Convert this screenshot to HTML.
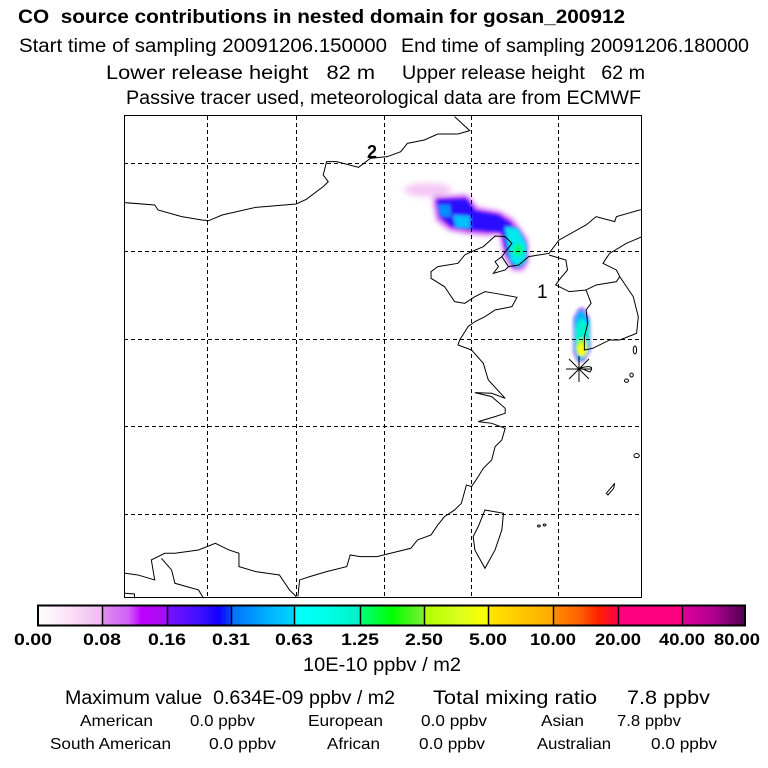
<!DOCTYPE html>
<html><head><meta charset="utf-8"><style>
html,body{margin:0;padding:0;background:#fff;}
svg{display:block;}
text{font-family:"Liberation Sans",sans-serif;fill:#000;white-space:pre;}
</style></head><body>
<svg width="768" height="768" viewBox="0 0 768 768" xmlns="http://www.w3.org/2000/svg" xml:space="preserve">
<defs>
<filter id="b2" x="-50%" y="-50%" width="200%" height="200%"><feGaussianBlur stdDeviation="1.5"/></filter>
<filter id="b3" x="-50%" y="-50%" width="200%" height="200%"><feGaussianBlur stdDeviation="3"/></filter>
<linearGradient id="g1"><stop offset="0" stop-color="#fff"/><stop offset="0.5" stop-color="#fbe0f8"/><stop offset="1" stop-color="#f0b8f0"/></linearGradient>
<linearGradient id="g2"><stop offset="0" stop-color="#e090f0"/><stop offset="0.4" stop-color="#d060f8"/><stop offset="0.6" stop-color="#c000ff"/><stop offset="1" stop-color="#a010f0"/></linearGradient>
<linearGradient id="g3"><stop offset="0" stop-color="#7a10ff"/><stop offset="0.5" stop-color="#4010ff"/><stop offset="0.8" stop-color="#1000ff"/><stop offset="1" stop-color="#0050ff"/></linearGradient>
<linearGradient id="g4"><stop offset="0" stop-color="#0070ff"/><stop offset="0.5" stop-color="#00a8ff"/><stop offset="1" stop-color="#00d8ff"/></linearGradient>
<linearGradient id="g5"><stop offset="0" stop-color="#00ffff"/><stop offset="0.5" stop-color="#00ffe8"/><stop offset="1" stop-color="#00f0c0"/></linearGradient>
<linearGradient id="g6"><stop offset="0" stop-color="#00ff80"/><stop offset="0.5" stop-color="#00ff00"/><stop offset="1" stop-color="#80f030"/></linearGradient>
<linearGradient id="g7"><stop offset="0" stop-color="#b0ff00"/><stop offset="0.5" stop-color="#d8ff20"/><stop offset="1" stop-color="#ffff00"/></linearGradient>
<linearGradient id="g8"><stop offset="0" stop-color="#ffe800"/><stop offset="0.5" stop-color="#ffc800"/><stop offset="1" stop-color="#ffa800"/></linearGradient>
<linearGradient id="g9"><stop offset="0" stop-color="#ff9000"/><stop offset="0.4" stop-color="#ff6000"/><stop offset="0.7" stop-color="#ff2000"/><stop offset="1" stop-color="#ff0050"/></linearGradient>
<linearGradient id="g10"><stop offset="0" stop-color="#ff0080"/><stop offset="1" stop-color="#ff0080"/></linearGradient>
<linearGradient id="g11"><stop offset="0" stop-color="#e000a0"/><stop offset="0.5" stop-color="#b00090"/><stop offset="1" stop-color="#500050"/></linearGradient>
</defs>

<text x="18" y="23" font-size="19" font-weight="bold" textLength="607" lengthAdjust="spacingAndGlyphs">CO  source contributions in nested domain for gosan_200912</text>
<text x="19" y="52" font-size="19" textLength="368" lengthAdjust="spacingAndGlyphs">Start time of sampling 20091206.150000</text>
<text x="401" y="52" font-size="19" textLength="348" lengthAdjust="spacingAndGlyphs">End time of sampling 20091206.180000</text>
<text x="106" y="79" font-size="19" textLength="269" lengthAdjust="spacingAndGlyphs">Lower release height   82 m</text>
<text x="402" y="79" font-size="19" textLength="243" lengthAdjust="spacingAndGlyphs">Upper release height   62 m</text>
<text x="126" y="104" font-size="19" textLength="515" lengthAdjust="spacingAndGlyphs">Passive tracer used, meteorological data are from ECMWF</text>

<g filter="url(#b3)">
<ellipse cx="428" cy="190" rx="24" ry="7" fill="#f4c8f4"/>
<polygon points="433,197 467,195 477,208 500,212 513,220 527,240 528,260 523,270 513,270 505,257 500,233 487,235 467,233 450,230 437,220" fill="#c040f0"/>
</g>
<g filter="url(#b2)">
<polygon points="437,200 466,199 475,211 498,215 510,223 523,242 524,260 519,267 514,267 507,255 502,232 487,231 467,229 451,226 440,216" fill="#2a10ff"/>
<polygon points="438,205 450,205 451,217 440,216" fill="#0090ff"/>
<polygon points="453,215 470,216 470,228 456,228" fill="#00c0ff"/>
<polygon points="505,227 518,228 527,245 526,262 518,268 510,260" fill="#00e8f0"/>
<ellipse cx="518" cy="250" rx="5" ry="6" fill="#00ff70"/>
</g>
<g filter="url(#b2)">
<polygon points="578,309 583,307 590,318 591,350 584,362 577,362 573,352 573,318" fill="#a040ff"/>
<polygon points="578,311 583,310 590,320 590,349 583,361 578,361 574,350 574,320" fill="#00b0ff"/>
<ellipse cx="582" cy="335" rx="7" ry="16" fill="#00f0d0"/>
<ellipse cx="582" cy="348" rx="6" ry="9" fill="#b0ff20"/>
<ellipse cx="582" cy="350" rx="4" ry="6" fill="#ffff00"/>
</g>

<g stroke="#000" stroke-width="1" stroke-dasharray="4,3" fill="none">
<line x1="207.5" y1="116" x2="207.5" y2="598"/>
<line x1="296.5" y1="116" x2="296.5" y2="598"/>
<line x1="384.5" y1="116" x2="384.5" y2="598"/>
<line x1="471.5" y1="116" x2="471.5" y2="598"/>
<line x1="558.5" y1="116" x2="558.5" y2="598"/>
<line x1="124" y1="163.5" x2="642" y2="163.5"/>
<line x1="124" y1="251.5" x2="642" y2="251.5"/>
<line x1="124" y1="339.5" x2="642" y2="339.5"/>
<line x1="124" y1="426.5" x2="642" y2="426.5"/>
<line x1="124" y1="514.5" x2="642" y2="514.5"/>
</g>

<g transform="translate(121,110) scale(0.337,0.3333)" fill="none" stroke="#000" stroke-width="1">
<polyline vector-effect="non-scaling-stroke" points="12,278 100,285 110,300 180,320 240,330 260,332 300,315 400,292 520,282 550,268 600,230 615,215 600,195 610,155 640,155 705,172 740,145 790,140 830,125 850,100 900,90 940,72 1000,72 1035,62 990,20"/>
<polyline vector-effect="non-scaling-stroke" points="1546,298 1470,320 1465,335 1410,320 1380,345 1300,390 1270,430 1210,440 1180,465 1150,470 1130,440 1160,400 1140,380 1110,378 1075,410 1040,425 1020,435 1000,460 940,470 920,485 920,505 960,530 990,575 1020,580 1050,560 1080,545 1110,550 1175,562 1160,590 1110,600 1080,620 1050,635 1030,650 1005,690 1000,705 1040,720 1075,760 1090,810 1140,865 1100,850 1050,848 1100,860 1140,895 1140,910 1110,920 1060,935 1100,940 1140,955 1130,990 1110,1010 1100,1050 1075,1075 1060,1100 1040,1130 1025,1125 1010,1180 990,1200 960,1220 940,1245 920,1275 880,1290 860,1315 800,1330 760,1340 710,1340 680,1335 670,1370 610,1385 560,1400 530,1410 525,1460"/>
<polyline vector-effect="non-scaling-stroke" points="1130,440 1110,455 1120,470 1105,490 1140,480 1150,470"/>
<polyline vector-effect="non-scaling-stroke" points="12,1390 50,1395 100,1410 90,1350 130,1330 160,1330 230,1320 280,1300 320,1320 350,1330 350,1370 400,1385 470,1395 500,1440 520,1460"/>
<polyline vector-effect="non-scaling-stroke" points="120,1345 150,1380 160,1420 230,1440 245,1465"/>
<polyline vector-effect="non-scaling-stroke" points="12,1450 40,1452 40,1465"/>
<polyline vector-effect="non-scaling-stroke" points="1270,435 1320,450 1325,480 1300,510 1290,525 1330,545 1380,540 1395,580 1380,600 1385,640 1375,680 1375,720 1400,715 1450,690 1480,690 1530,670 1535,620 1520,560 1480,500 1470,480 1430,460 1450,430 1500,400 1546,380"/>
<polyline vector-effect="non-scaling-stroke" points="1380,540 1410,525 1470,515 1480,500"/>
<polygon vector-effect="non-scaling-stroke" points="1080,1200 1135,1210 1130,1260 1110,1320 1080,1375 1050,1320 1045,1280 1060,1250"/>
<ellipse vector-effect="non-scaling-stroke" cx="1525" cy="720" rx="5" ry="12"/>
<ellipse vector-effect="non-scaling-stroke" cx="1500" cy="812" rx="6" ry="5"/>
<ellipse vector-effect="non-scaling-stroke" cx="1515" cy="795" rx="5" ry="6"/>
<ellipse vector-effect="non-scaling-stroke" cx="1530" cy="1037" rx="8" ry="6"/>
<polygon vector-effect="non-scaling-stroke" points="1465,1120 1440,1150 1445,1155 1462,1135"/>
<ellipse vector-effect="non-scaling-stroke" cx="1240" cy="1248" rx="4" ry="3"/>
<ellipse vector-effect="non-scaling-stroke" cx="1257" cy="1245" rx="4" ry="3"/>
</g>

<g stroke="#000" stroke-width="1" fill="none">
<line x1="566" y1="369" x2="592" y2="369"/>
<line x1="579" y1="356" x2="579" y2="382"/>
<line x1="569" y1="359" x2="589" y2="379"/>
<line x1="569" y1="379" x2="589" y2="359"/>
<path d="M580,368 Q596,364 590,372 Z"/>
</g>

<text x="367" y="158" font-size="18" font-weight="bold">2</text>
<text x="537" y="298" font-size="19">1</text>

<rect x="124.5" y="115.5" width="517" height="482" fill="none" stroke="#000" stroke-width="1"/>

<g>
<rect x="38" y="606" width="65" height="19" fill="url(#g1)"/>
<rect x="102" y="606" width="66" height="19" fill="url(#g2)"/>
<rect x="167" y="606" width="65" height="19" fill="url(#g3)"/>
<rect x="231" y="606" width="64" height="19" fill="url(#g4)"/>
<rect x="294" y="606" width="67" height="19" fill="url(#g5)"/>
<rect x="360" y="606" width="65" height="19" fill="url(#g6)"/>
<rect x="424" y="606" width="65" height="19" fill="url(#g7)"/>
<rect x="488" y="606" width="66" height="19" fill="url(#g8)"/>
<rect x="553" y="606" width="66" height="19" fill="url(#g9)"/>
<rect x="618" y="606" width="65" height="19" fill="url(#g10)"/>
<rect x="682" y="606" width="63" height="19" fill="url(#g11)"/>
<g stroke="#000" stroke-width="1.5">
<line x1="102.5" y1="606" x2="102.5" y2="625"/>
<line x1="167.5" y1="606" x2="167.5" y2="625"/>
<line x1="231.5" y1="606" x2="231.5" y2="625"/>
<line x1="294.5" y1="606" x2="294.5" y2="625"/>
<line x1="360.5" y1="606" x2="360.5" y2="625"/>
<line x1="424.5" y1="606" x2="424.5" y2="625"/>
<line x1="488.5" y1="606" x2="488.5" y2="625"/>
<line x1="553.5" y1="606" x2="553.5" y2="625"/>
<line x1="618.5" y1="606" x2="618.5" y2="625"/>
<line x1="682.5" y1="606" x2="682.5" y2="625"/>
</g>
<rect x="38" y="605.5" width="707" height="20" fill="none" stroke="#000" stroke-width="2"/>
</g>
<g font-size="17" font-weight="bold" text-anchor="middle">
<text x="33" y="645" textLength="38" lengthAdjust="spacingAndGlyphs">0.00</text>
<text x="102" y="645" textLength="38" lengthAdjust="spacingAndGlyphs">0.08</text>
<text x="167" y="645" textLength="38" lengthAdjust="spacingAndGlyphs">0.16</text>
<text x="231" y="645" textLength="38" lengthAdjust="spacingAndGlyphs">0.31</text>
<text x="294" y="645" textLength="38" lengthAdjust="spacingAndGlyphs">0.63</text>
<text x="360" y="645" textLength="38" lengthAdjust="spacingAndGlyphs">1.25</text>
<text x="424" y="645" textLength="38" lengthAdjust="spacingAndGlyphs">2.50</text>
<text x="488" y="645" textLength="38" lengthAdjust="spacingAndGlyphs">5.00</text>
<text x="553" y="645" textLength="46" lengthAdjust="spacingAndGlyphs">10.00</text>
<text x="618" y="645" textLength="46" lengthAdjust="spacingAndGlyphs">20.00</text>
<text x="682" y="645" textLength="46" lengthAdjust="spacingAndGlyphs">40.00</text>
<text x="737" y="645" textLength="46" lengthAdjust="spacingAndGlyphs">80.00</text>
</g>

<text x="303" y="671" font-size="19" textLength="158" lengthAdjust="spacingAndGlyphs">10E-10 ppbv / m2</text>
<text x="65" y="704" font-size="19" textLength="330" lengthAdjust="spacingAndGlyphs">Maximum value  0.634E-09 ppbv / m2</text>
<text x="433" y="704" font-size="19" textLength="164" lengthAdjust="spacingAndGlyphs">Total mixing ratio</text>
<text x="627" y="704" font-size="19" textLength="83" lengthAdjust="spacingAndGlyphs">7.8 ppbv</text>
<g font-size="16">
<text x="80" y="726" textLength="73" lengthAdjust="spacingAndGlyphs">American</text>
<text x="190" y="726" textLength="65" lengthAdjust="spacingAndGlyphs">0.0 ppbv</text>
<text x="308" y="726" textLength="75" lengthAdjust="spacingAndGlyphs">European</text>
<text x="421" y="726" textLength="66" lengthAdjust="spacingAndGlyphs">0.0 ppbv</text>
<text x="541" y="726" textLength="43" lengthAdjust="spacingAndGlyphs">Asian</text>
<text x="617" y="726" textLength="64" lengthAdjust="spacingAndGlyphs">7.8 ppbv</text>
<text x="50" y="749" textLength="121" lengthAdjust="spacingAndGlyphs">South American</text>
<text x="209" y="749" textLength="67" lengthAdjust="spacingAndGlyphs">0.0 ppbv</text>
<text x="327" y="749" textLength="53" lengthAdjust="spacingAndGlyphs">African</text>
<text x="419" y="749" textLength="66" lengthAdjust="spacingAndGlyphs">0.0 ppbv</text>
<text x="537" y="749" textLength="74" lengthAdjust="spacingAndGlyphs">Australian</text>
<text x="651" y="749" textLength="66" lengthAdjust="spacingAndGlyphs">0.0 ppbv</text>
</g>
</svg>
</body></html>
